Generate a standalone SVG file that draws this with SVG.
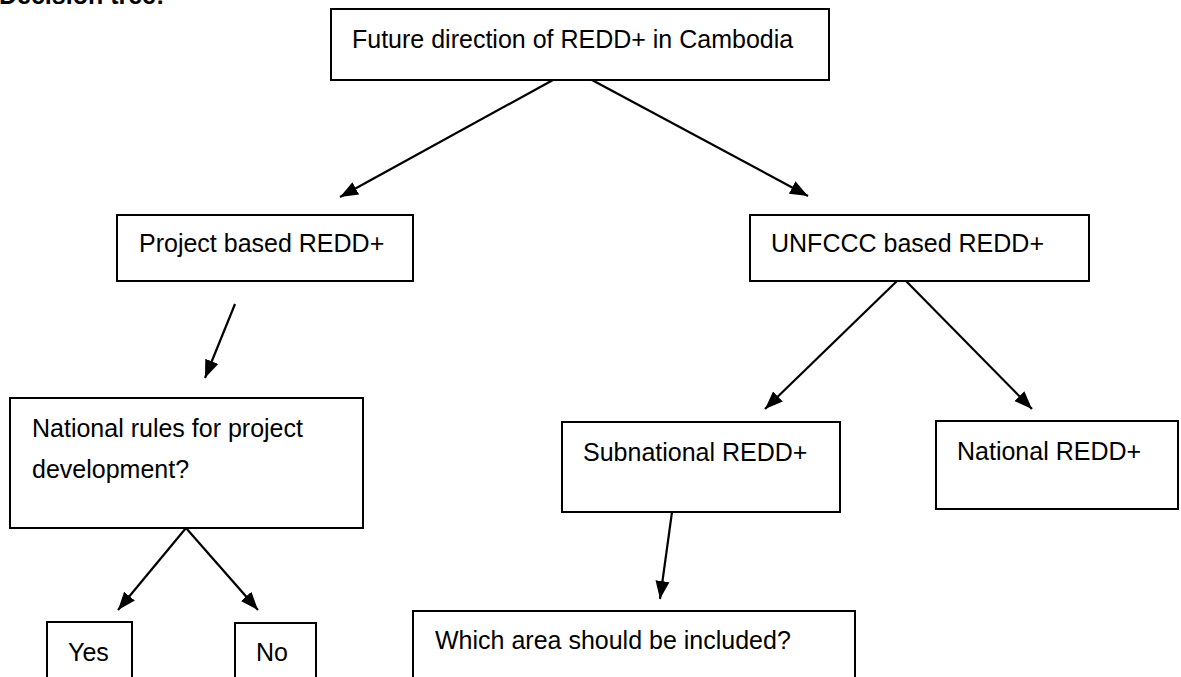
<svg xmlns="http://www.w3.org/2000/svg" width="1181" height="677" viewBox="0 0 1181 677">
<style>
.box{fill:#fff;stroke:#000;stroke-width:2}
.t{font-family:"Liberation Sans",Arial,sans-serif;font-size:25px;fill:#000}
.c{stroke:#000;stroke-width:2.2;fill:none;marker-end:url(#ah)}
</style>
<defs>
<marker id="ah" markerUnits="userSpaceOnUse" markerWidth="20" markerHeight="20" viewBox="0 0 20 20" refX="18" refY="10" orient="auto">
<path d="M0,3 L18,10 L0,17 Z" fill="#000"/>
</marker>
</defs>
<rect width="1181" height="677" fill="#fff"/>
<text class="t" x="-1" y="4" font-weight="bold">Decision tree:</text>
<g id="connectors">
<line class="c" x1="553" y1="80" x2="340" y2="197"/>
<line class="c" x1="592" y1="80" x2="808" y2="196"/>
<line class="c" x1="235" y1="304" x2="205" y2="378"/>
<line class="c" x1="186" y1="528" x2="118" y2="610"/>
<line class="c" x1="186" y1="528" x2="258" y2="610"/>
<line class="c" x1="897" y1="281" x2="765" y2="409"/>
<line class="c" x1="906" y1="281" x2="1032" y2="409"/>
<line class="c" x1="672" y1="512" x2="660" y2="599"/>
</g>
<g id="n-root"><rect class="box" x="331" y="9" width="498" height="71"/><text class="t" x="352" y="48">Future direction of REDD+ in Cambodia</text></g>
<g id="n-project"><rect class="box" x="117" y="215" width="296" height="66"/><text class="t" x="139" y="252">Project based REDD+</text></g>
<g id="n-unfccc"><rect class="box" x="750" y="215" width="339" height="66"/><text class="t" x="771" y="252">UNFCCC based REDD+</text></g>
<g id="n-rules"><rect class="box" x="10" y="398" width="353" height="130"/><text class="t" x="32" y="437">National rules for project</text><text class="t" x="32" y="478">development?</text></g>
<g id="n-yes"><rect class="box" x="47" y="622" width="85" height="70"/><text class="t" x="68" y="661">Yes</text></g>
<g id="n-no"><rect class="box" x="235" y="623" width="81" height="70"/><text class="t" x="256" y="661">No</text></g>
<g id="n-sub"><rect class="box" x="562" y="422" width="278" height="90"/><text class="t" x="583" y="461">Subnational REDD+</text></g>
<g id="n-national"><rect class="box" x="936" y="421" width="242" height="88"/><text class="t" x="957" y="460">National REDD+</text></g>
<g id="n-area"><rect class="box" x="413" y="611" width="442" height="80"/><text class="t" x="435" y="649">Which area should be included?</text></g>
</svg>
